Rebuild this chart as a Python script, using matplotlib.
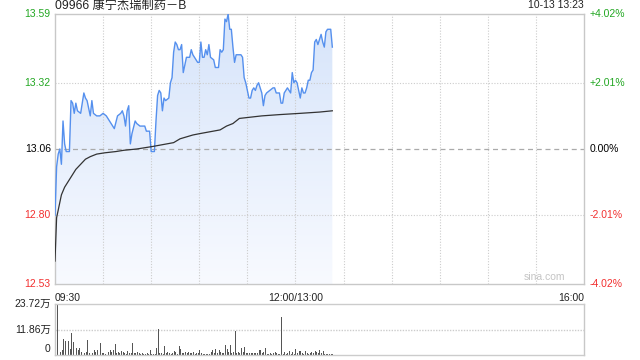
import numpy as np
import matplotlib
matplotlib.use("Agg")
import matplotlib.pyplot as plt
from matplotlib.colors import LinearSegmentedColormap

plt.rcParams['font.family'] = ['Liberation Sans', 'Noto Sans CJK SC', 'DejaVu Sans']

title = "09966 康宁杰瑞制药－B"
stamp = "10-13 13:23"
prev_close = 13.06
y_ticks = [12.53, 12.80, 13.06, 13.32, 13.59]
pct_labels = ["-4.02%", "-2.01%", "0.00%", "+2.01%", "+4.02%"]
x_labels = ["09:30", "12:00/13:00", "16:00"]
vol_labels = ["0", "11.86万", "23.72万"]
vol_max = 23.72

# trading minutes after 09:30 (lunch break removed) and price
price_min = [0, 1, 2, 3, 4, 5, 6, 7, 9, 10, 11, 12, 13, 14, 16, 18, 19, 20, 22, 23,
             24, 26, 28, 30, 32, 34, 37, 39, 41, 42, 43, 44, 45, 46, 47, 48, 50, 51, 53, 54,
             56, 57, 59, 60, 62, 63, 64, 65, 66, 67, 68, 69, 71, 72, 73, 74, 75, 76, 77, 78,
             79, 80, 82, 83, 84, 85, 86, 87, 89, 90, 91, 92, 93, 94, 95, 96, 97, 99, 100, 102,
             103, 104, 105, 106, 107, 108, 109, 110, 111, 112, 113, 115, 116, 117, 118, 119, 121, 122, 123, 124,
             125, 126, 127, 128, 129, 130, 131, 132, 134, 136, 137, 138, 140, 141, 142, 143, 144, 145, 147, 148,
             149, 150, 151, 153, 154, 155, 156, 157, 158, 159, 160, 161, 162, 163, 164, 165, 166, 167, 168, 169,
             170, 172, 173]
price = [12.80, 12.99, 13.04, 13.06, 13.00, 13.17, 13.08, 13.05, 13.05, 13.25, 13.24, 13.20, 13.24, 13.21, 13.20, 13.28, 13.26, 13.25, 13.19, 13.25,
         13.20, 13.19, 13.19, 13.20, 13.19, 13.17, 13.14, 13.19, 13.20, 13.21, 13.19, 13.15, 13.21, 13.23, 13.08, 13.12, 13.17, 13.16, 13.15, 13.15,
         13.15, 13.13, 13.13, 13.05, 13.05, 13.17, 13.27, 13.29, 13.28, 13.21, 13.26, 13.25, 13.26, 13.32, 13.34, 13.44, 13.48, 13.47, 13.45, 13.45,
         13.47, 13.36, 13.42, 13.42, 13.42, 13.45, 13.43, 13.42, 13.40, 13.40, 13.48, 13.42, 13.42, 13.45, 13.43, 13.47, 13.42, 13.41, 13.38, 13.38,
         13.45, 13.44, 13.45, 13.57, 13.56, 13.59, 13.53, 13.53, 13.46, 13.40, 13.43, 13.43, 13.43, 13.42, 13.34, 13.32, 13.26, 13.26, 13.29, 13.30,
         13.29, 13.31, 13.32, 13.30, 13.28, 13.23, 13.27, 13.28, 13.29, 13.30, 13.30, 13.28, 13.28, 13.24, 13.24, 13.28, 13.29, 13.30, 13.28, 13.36,
         13.32, 13.33, 13.32, 13.26, 13.30, 13.28, 13.28, 13.30, 13.33, 13.33, 13.36, 13.37, 13.48, 13.49, 13.47, 13.49, 13.51, 13.48, 13.46, 13.52,
         13.53, 13.53, 13.46]

avg_min = [0, 1, 2, 4, 6, 10, 13, 16, 19, 22, 26, 31, 38, 43, 51, 61, 74, 78, 86, 90,
           103, 107, 111, 115, 122, 129, 140, 153, 165, 173]
avg_price = [12.62, 12.79, 12.82, 12.88, 12.91, 12.95, 12.98, 13.00, 13.02, 13.03, 13.04, 13.045, 13.05, 13.055, 13.06, 13.07, 13.085, 13.10, 13.115, 13.12,
             13.135, 13.15, 13.16, 13.18, 13.185, 13.19, 13.195, 13.20, 13.205, 13.21]

# volume per minute, in 万 shares
volume = [9.0, 23.7, 1.0, 1.6, 2.4, 7.4, 6.3, 4.3, 6.6, 2.7, 10.0, 6.0, 2.1, 3.2, 2.4, 3.2, 1.6, 8.7, 0.8, 1.6,
          7.1, 0.8, 0.8, 1.0, 2.1, 1.3, 2.1, 2.7, 5.5, 0.8, 0.8, 0.5, 2.4, 1.6, 2.4, 1.3, 2.1, 5.2, 1.1, 1.6,
          0.8, 1.9, 1.6, 0.8, 0.6, 1.9, 0.8, 1.1, 5.8, 0.8, 0.8, 1.4, 0.8, 0.3, 0.8, 0.3, 0.5, 0.8, 0.5, 2.4,
          0.5, 0.4, 0.5, 3.2, 12.2, 1.1, 0.8, 0.5, 4.3, 1.1, 1.6, 0.8, 0.5, 1.1, 1.9, 1.3, 0.5, 4.0, 2.7, 1.1,
          0.8, 1.6, 0.8, 1.6, 0.8, 1.1, 1.6, 0.5,
          0.8, 0.8, 2.1, 1.1, 0.5, 0.5, 0.5, 0.5, 0.5, 1.6, 2.1, 0.8, 2.7, 1.1, 2.4, 1.6, 1.1, 0.8, 4.7, 2.7,
          1.6, 4.7, 1.1, 1.6, 11.1, 0.8, 1.6, 1.1, 3.2, 1.6, 3.6, 0.8, 1.1, 0.8, 0.8, 1.1, 0.8, 1.1, 0.8, 2.1,
          2.4, 0.8, 1.6, 3.2, 0.5, 0.5, 0.8, 0.5, 0.8, 1.3, 0.8, 0.3, 0.5, 17.9, 0.3, 1.3, 0.5, 0.8, 1.9, 0.5,
          1.6, 0.3, 2.7, 0.8, 1.9, 1.9, 0.8, 0.5, 1.9, 0.8, 0.3, 0.8, 1.3, 0.8, 1.9, 1.3, 0.8, 2.4, 0.8, 1.9,
          0.5, 0.5, 0.5, 0.5, 0.5, 0.5]

GREEN = '#22a722'
RED = '#f23030'
GRID = '#cccccc'
EDGE = '#c8c8c8'

fig = plt.figure(figsize=(6.4, 3.6), dpi=100)
W, H = 640, 360
ax = fig.add_axes([55 / W, 1 - 284 / H, 529 / W, 270 / H])
av = fig.add_axes([55 / W, 1 - 355 / H, 529 / W, 51 / H])

# price panel
ax.set_xlim(0, 330)
ax.set_ylim(y_ticks[0], y_ticks[-1])
for m in range(30, 330, 30):
    ax.axvline(m, color=GRID, lw=0.8, ls=(0, (1, 1.5)), zorder=2)
for v in [y_ticks[1], y_ticks[3]]:
    ax.axhline(v, color=GRID, lw=0.8, ls=(0, (1, 1.5)), zorder=2)
ax.axhline(prev_close, color='#aaaaaa', lw=0.9, ls=(0, (4, 3)), zorder=2)

poly = ax.fill_between(price_min, price, y_ticks[0], color='none', lw=0)
cmap = LinearSegmentedColormap.from_list('fade', ['#f8faff', '#d6e4fa'])
grad = np.linspace(0, 1, 256).reshape(-1, 1)
img = ax.imshow(grad, cmap=cmap, origin='lower', aspect='auto',
                extent=[0, price_min[-1], y_ticks[0], y_ticks[-1]], zorder=1)
img.set_clip_path(poly.get_paths()[0], transform=ax.transData)
ax.plot(price_min, price, color='#5590ee', lw=1.0, zorder=3)
ax.plot(avg_min, avg_price, color='#333333', lw=0.9, zorder=3)

ax.set_xticks([])
ax.set_yticks([])
for s in ax.spines.values():
    s.set_color(EDGE)
    s.set_linewidth(1.0)

colors = [RED, RED, 'black', GREEN, GREEN]
for v, c, p in zip(y_ticks, colors, pct_labels):
    ax.text(-0.008, v, f"{v:.2f}", transform=ax.get_yaxis_transform(), ha='right',
            va='center', fontsize=7.5, color=c)
    ax.text(1.011, v, p, transform=ax.get_yaxis_transform(), ha='left',
            va='center', fontsize=7.5, color=c)

ax.text(0, -0.035, x_labels[0], transform=ax.transAxes, ha='left', va='top', fontsize=7.5, color='#222222')
ax.text(150 / 330, -0.035, x_labels[1], transform=ax.transAxes, ha='center', va='top', fontsize=7.5, color='#222222')
ax.text(1, -0.035, x_labels[2], transform=ax.transAxes, ha='right', va='top', fontsize=7.5, color='#222222')

ax.text(0, 1.01, title, transform=ax.transAxes, ha='left', va='bottom', fontsize=8.8, color='#222222')
ax.text(1, 1.013, stamp, transform=ax.transAxes, ha='right', va='bottom', fontsize=7.5, color='#222222')
ax.text(0.965, 0.008, "sina.com", transform=ax.transAxes, ha='right', va='bottom', fontsize=7.5, color='#c4c4c4')

# volume panel
av.set_xlim(-0.5, 330)
av.set_ylim(0, vol_max)
av.bar(np.arange(len(volume)), volume, width=0.6, color='#555555', zorder=2)
for v in [vol_max / 2]:
    av.axhline(v, color=GRID, lw=1.0, ls=(0, (1, 1)), zorder=0)
av.set_xticks([])
av.set_yticks([])
for k in ['top', 'bottom']:
    av.spines[k].set_color(GRID)
    av.spines[k].set_linestyle((0, (1, 1)))
    av.spines[k].set_linewidth(1.0)
for k in ['left', 'right']:
    av.spines[k].set_color(EDGE)
    av.spines[k].set_linewidth(1.0)
for v, lab in zip([0, vol_max / 2, vol_max], vol_labels):
    yy = v + 3.0 if v == 0 else v
    av.text(-0.008, yy, lab, transform=av.get_yaxis_transform(), ha='right',
            va='center', fontsize=7.5, color='#222222')

fig.savefig("out.png", dpi=100)
